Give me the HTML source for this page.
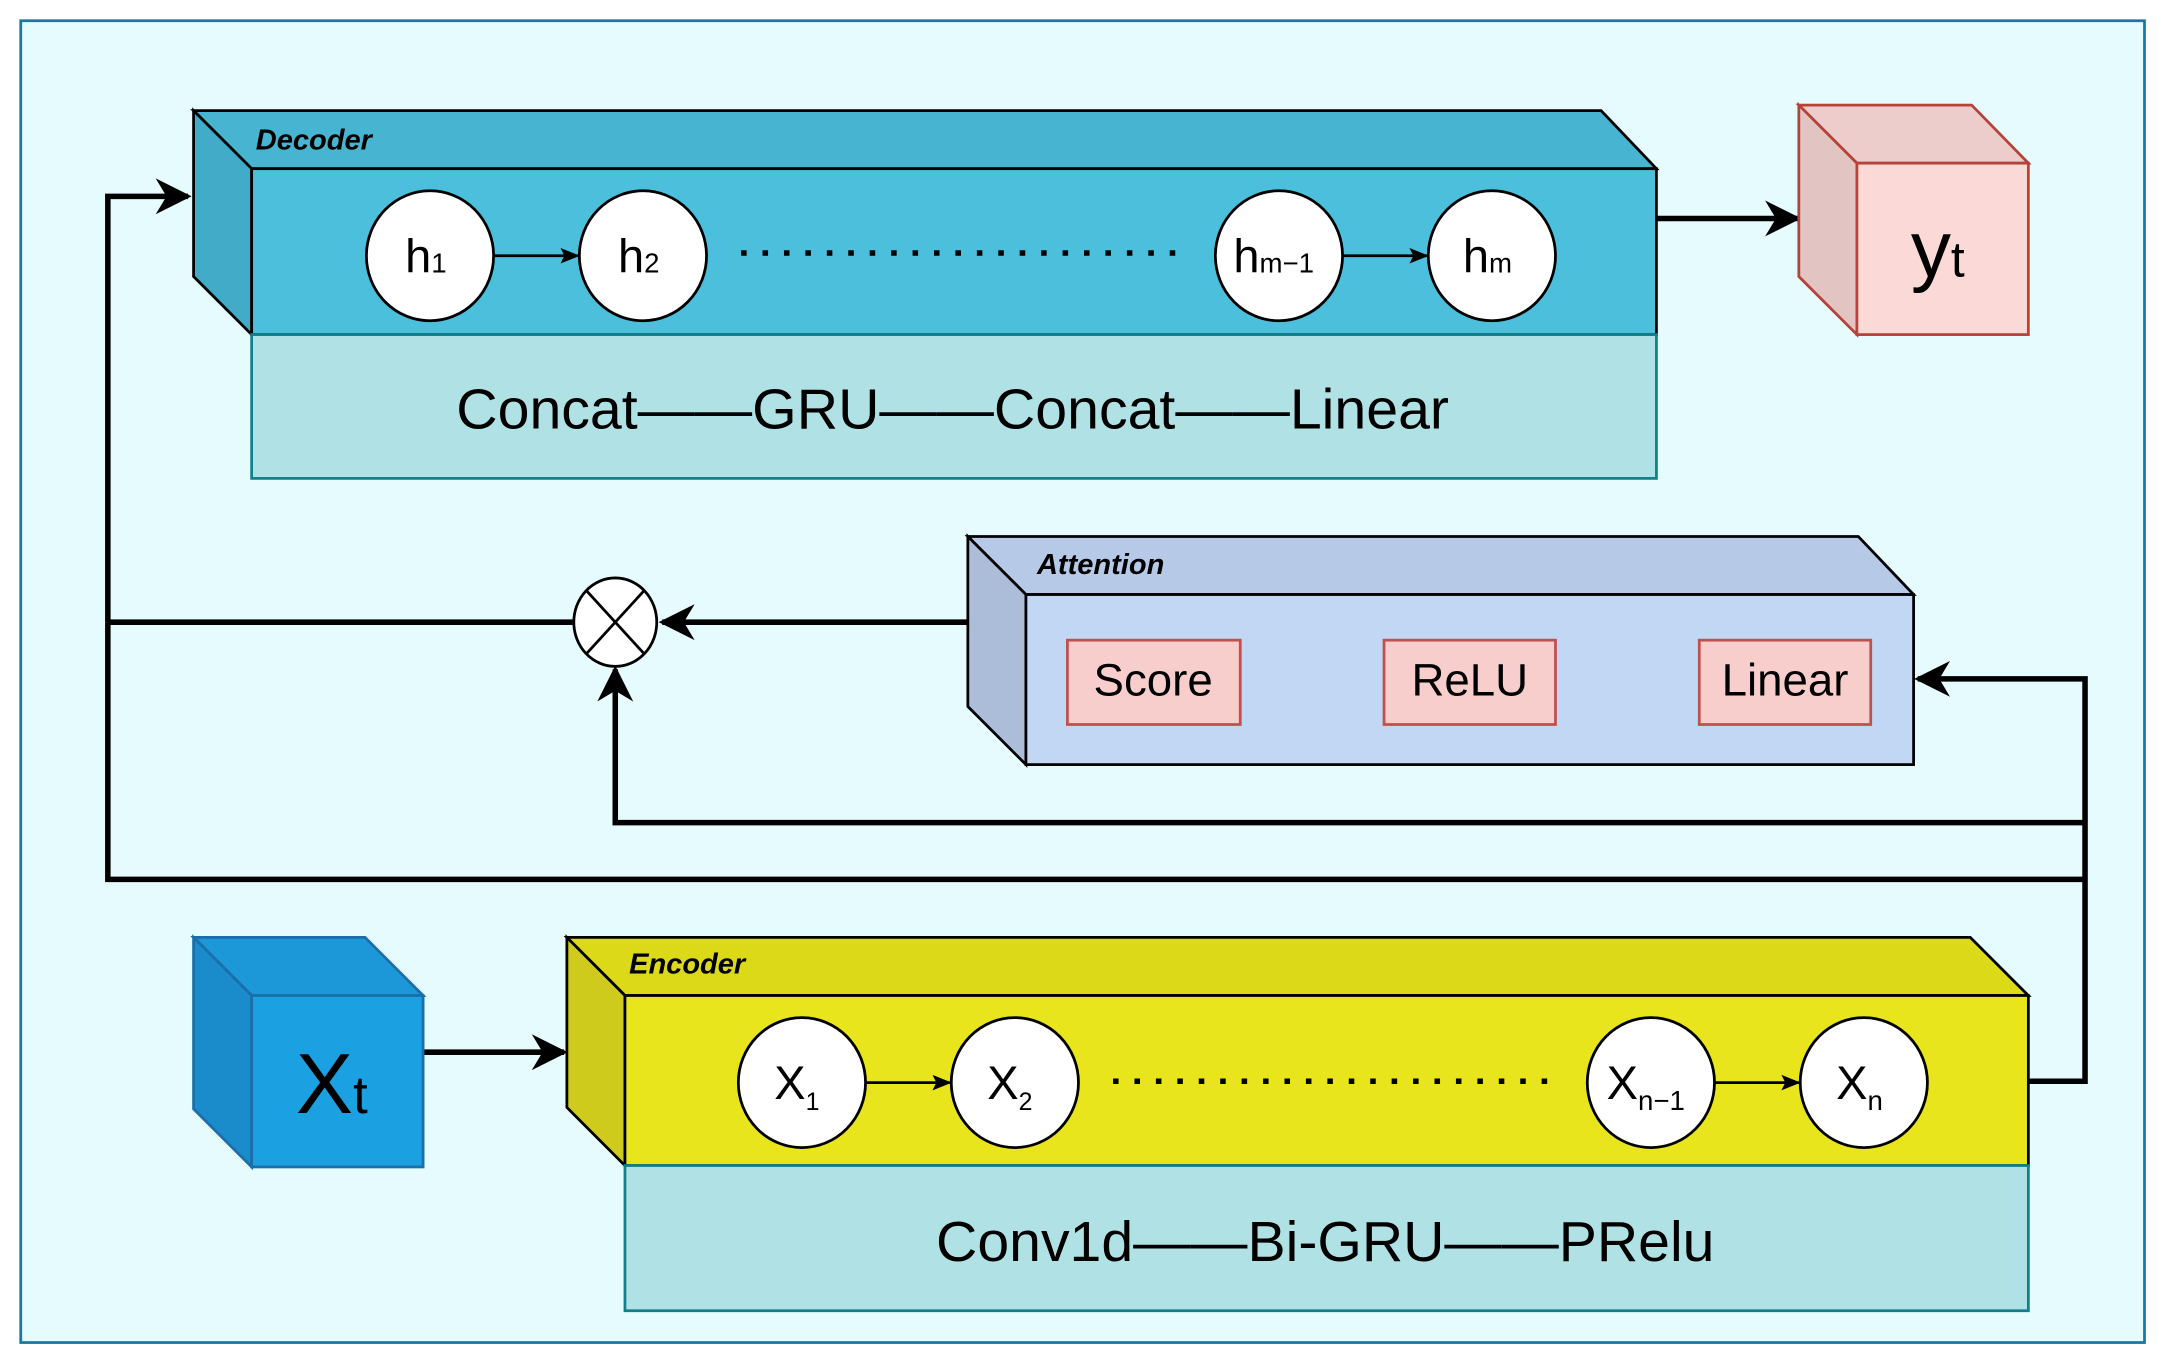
<!DOCTYPE html>
<html><head><meta charset="utf-8"><style>
html,body{margin:0;padding:0;background:#fff;}
svg{display:block;}
text{font-family:"Liberation Sans",sans-serif;}
</style></head><body>
<svg width="2168" height="1363" viewBox="0 0 1568 985.8" preserveAspectRatio="none" xmlns="http://www.w3.org/2000/svg">
<defs>
<marker id="s" viewBox="0 0 10 10" refX="9" refY="5" markerWidth="14" markerHeight="14" orient="auto" markerUnits="userSpaceOnUse"><path d="M0,1 L10,5 L0,9 L2,5 Z" fill="#000"/></marker>
<marker id="b" viewBox="0 0 10 10" refX="9" refY="5" markerWidth="26" markerHeight="26" orient="auto" markerUnits="userSpaceOnUse"><path d="M0,0 L10,5 L0,10 L3,5 Z" fill="#000"/></marker>
</defs>
<rect x="15" y="15" width="1536" height="956" fill="#e6fbfd" stroke="#1a78a0" stroke-width="2"/>

<!-- Decoder -->
<polygon points="140,80 1158,80 1198,122 182,122" fill="#47b4d2" stroke="#000" stroke-width="2"/>
<polygon points="140,80 182,122 182,242 140,200" fill="#42abc8" stroke="#000" stroke-width="2"/>
<rect x="182" y="122" width="1016" height="120" fill="#4bbfdc" stroke="#000" stroke-width="2"/>
<rect x="182" y="242" width="1016" height="104" fill="#b0e2e5" stroke="#11808a" stroke-width="2"/>
<text x="185" y="108" font-size="21" font-weight="bold" font-style="italic">Decoder</text>
<g stroke="#000" stroke-width="2" fill="#fff">
<ellipse cx="311" cy="185" rx="46" ry="47"/><ellipse cx="465" cy="185" rx="46" ry="47"/>
<ellipse cx="925" cy="185" rx="46" ry="47"/><ellipse cx="1079" cy="185" rx="46" ry="47"/>
</g>
<line x1="357" y1="185" x2="418" y2="185" stroke="#000" stroke-width="2" marker-end="url(#s)"/>
<line x1="971" y1="185" x2="1032" y2="185" stroke="#000" stroke-width="2" marker-end="url(#s)"/>
<line x1="536" y1="183" x2="856" y2="183" stroke="#000" stroke-width="4" stroke-dasharray="4,11.5"/>
<text x="293" y="197" font-size="34">h<tspan font-size="20">1</tspan></text>
<text x="447" y="197" font-size="34">h<tspan font-size="20">2</tspan></text>
<text x="892" y="197" font-size="34">h<tspan font-size="20">m−1</tspan></text>
<text x="1058" y="197" font-size="34">h<tspan font-size="20">m</tspan></text>
<text x="330" y="310" font-size="41" textLength="718" lengthAdjust="spacingAndGlyphs">Concat——GRU——Concat——Linear</text>

<line x1="1198" y1="158" x2="1300" y2="158" stroke="#000" stroke-width="4" marker-end="url(#b)"/>
<!-- yt -->
<polygon points="1301,76 1426,76 1467,118 1343,118" fill="#eccdcb" stroke="#b5433a" stroke-width="2"/>
<polygon points="1301,76 1343,118 1343,242 1301,200" fill="#e2c5c2" stroke="#b5433a" stroke-width="2"/>
<rect x="1343" y="118" width="124" height="124" fill="#fad9d6" stroke="#b5433a" stroke-width="2"/>
<text x="1382" y="200" font-size="58">y<tspan font-size="36">t</tspan></text>

<!-- Attention -->
<polygon points="700,388 1344,388 1384,430 742,430" fill="#b6cae8" stroke="#000" stroke-width="2"/>
<polygon points="700,388 742,430 742,553 700,511" fill="#abbdd9" stroke="#000" stroke-width="2"/>
<rect x="742" y="430" width="642" height="123" fill="#c1d7f3" stroke="#000" stroke-width="2"/>
<text x="750" y="415" font-size="21" font-weight="bold" font-style="italic">Attention</text>
<g fill="#f8cecc" stroke="#c0504d" stroke-width="2">
<rect x="772" y="463" width="125" height="61"/><rect x="1001" y="463" width="124" height="61"/><rect x="1229" y="463" width="124" height="61"/>
</g>
<text x="834" y="503" font-size="33" text-anchor="middle">Score</text>
<text x="1063" y="503" font-size="33" text-anchor="middle">ReLU</text>
<text x="1291" y="503" font-size="33" text-anchor="middle">Linear</text>

<!-- connectors -->
<g stroke="#000" stroke-width="4" fill="none">
<polyline points="78,450 78,142 136,142" marker-end="url(#b)"/>
<line x1="78" y1="450" x2="414" y2="450"/>
<line x1="700" y1="450" x2="479" y2="450" marker-end="url(#b)"/>
<polyline points="1508,595 445,595 445,484" marker-end="url(#b)"/>
<polyline points="78,450 78,636 1508,636"/>
<polyline points="1467,782 1508,782 1508,491 1387,491" marker-end="url(#b)"/>
<line x1="306" y1="761" x2="408" y2="761" marker-end="url(#b)"/>
</g>
<ellipse cx="445" cy="450" rx="30" ry="32" fill="#fff" stroke="#000" stroke-width="2"/>
<line x1="424" y1="427" x2="466" y2="473" stroke="#000" stroke-width="2"/>
<line x1="466" y1="427" x2="424" y2="473" stroke="#000" stroke-width="2"/>

<!-- Encoder -->
<polygon points="410,678 1425,678 1467,720 452,720" fill="#dcd918" stroke="#000" stroke-width="2"/>
<polygon points="410,678 452,720 452,843 410,801" fill="#cfcb1d" stroke="#000" stroke-width="2"/>
<rect x="452" y="720" width="1015" height="123" fill="#e9e51c" stroke="#000" stroke-width="2"/>
<rect x="452" y="843" width="1015" height="105" fill="#b0e2e5" stroke="#11808a" stroke-width="2"/>
<text x="455" y="704" font-size="21" font-weight="bold" font-style="italic">Encoder</text>
<g stroke="#000" stroke-width="2" fill="#fff">
<ellipse cx="580" cy="783" rx="46" ry="47"/><ellipse cx="734" cy="783" rx="46" ry="47"/>
<ellipse cx="1194" cy="783" rx="46" ry="47"/><ellipse cx="1348" cy="783" rx="46" ry="47"/>
</g>
<line x1="626" y1="783" x2="687" y2="783" stroke="#000" stroke-width="2" marker-end="url(#s)"/>
<line x1="1240" y1="783" x2="1301" y2="783" stroke="#000" stroke-width="2" marker-end="url(#s)"/>
<line x1="805" y1="782" x2="1125" y2="782" stroke="#000" stroke-width="4" stroke-dasharray="4,11.5"/>
<text x="560" y="795" font-size="34">X<tspan font-size="18" dy="8">1</tspan></text>
<text x="714" y="795" font-size="34">X<tspan font-size="18" dy="8">2</tspan></text>
<text x="1162" y="795" font-size="34">X<tspan font-size="20" dy="8">n−1</tspan></text>
<text x="1328" y="795" font-size="34">X<tspan font-size="20" dy="8">n</tspan></text>
<text x="677" y="912" font-size="41" textLength="563" lengthAdjust="spacingAndGlyphs">Conv1d——Bi-GRU——PRelu</text>

<!-- Xt -->
<polygon points="140,678 264,678 306,720 182,720" fill="#1c98d8" stroke="#1a6fa8" stroke-width="2"/>
<polygon points="140,678 182,720 182,844 140,802" fill="#1a8ccc" stroke="#1a6fa8" stroke-width="2"/>
<rect x="182" y="720" width="124" height="124" fill="#1ba0e2" stroke="#1a6fa8" stroke-width="2"/>
<text x="214" y="805" font-size="62">X<tspan font-size="38">t</tspan></text>
</svg>
</body></html>
